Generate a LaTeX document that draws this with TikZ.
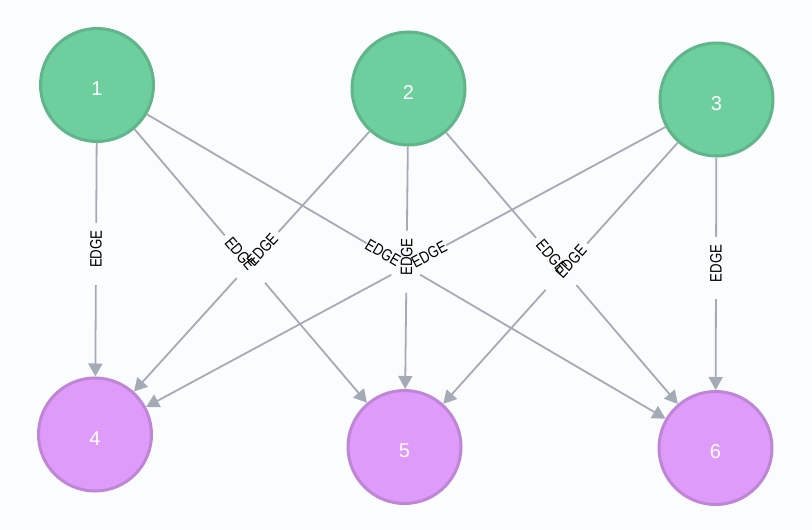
\documentclass[tikz,border=0pt]{standalone}
\usepackage{fontspec}
\setmainfont{Liberation Sans}
\newfontfamily\edgefont[FakeStretch=0.8]{Liberation Sans}
\usetikzlibrary{arrows.meta}
\definecolor{bgc}{HTML}{FBFCFD}
\definecolor{gfill}{HTML}{6DCE9E}
\definecolor{gstroke}{HTML}{60B58B}
\definecolor{pfill}{HTML}{DE9BF9}
\definecolor{pstroke}{HTML}{BF85D6}
\definecolor{edgec}{HTML}{A5ABB6}
\begin{document}
\begin{tikzpicture}[x=1pt,y=-1pt,
  basenode/.style={circle, line width=3pt, minimum size=113pt, inner sep=0pt},
  gnode/.style={basenode, fill=gfill, draw=gstroke},
  pnode/.style={basenode, fill=pfill, draw=pstroke},
  ntext/.style={text=white, font=\fontsize{20}{20}\selectfont, inner sep=0pt, yshift=-4pt},
  edgeline/.style={draw=edgec, line width=1.8pt, -{Triangle[width=14pt,length=13pt]}},
  gapbox/.style={fill=bgc, minimum width=62pt, minimum height=16pt, inner sep=0pt},
  elabel/.style={font=\edgefont\fontsize{16.5}{16.5}\selectfont, text=black, inner sep=0pt}
]
\fill[bgc] (0,0) rectangle (812,530);
\useasboundingbox (0,0) rectangle (812,530);

\node[gnode] (n1) at (97,85) {};
\node[gnode] (n2) at (408.5,88.5) {};
\node[gnode] (n3) at (716.5,99.5) {};
\node[pnode] (n4) at (95,434.5) {};
\node[pnode] (n5) at (404.5,447) {};
\node[pnode] (n6) at (715.5,448) {};

\node[ntext] (t1) at (n1) {1};
\node[ntext] (t2) at (n2) {2};
\node[ntext] (t3) at (n3) {3};
\node[ntext] (t4) at (n4) {4};
\node[ntext] (t5) at (n5) {5};
\node[ntext] (t6) at (n6) {6};

\foreach \a/\b in {1/4,1/5,1/6,2/4,2/5,2/6,3/4,3/5,3/6}{
  \draw[edgeline] (n\a) -- (n\b);
}
\foreach \a/\b in {1/4,1/5,1/6,2/4,2/5,2/6,3/4,3/5,3/6}{
  \path (n\a) -- (n\b) node[gapbox, sloped, pos=0.475] (g\a\b) {};
}
\foreach \a/\b in {1/4,1/5,1/6,2/4,2/5,2/6,3/4,3/5,3/6}{
  \path (n\a) -- (n\b) node[elabel, sloped, pos=0.455] (l\a\b) {EDGE};
}
\end{tikzpicture}
\end{document}
